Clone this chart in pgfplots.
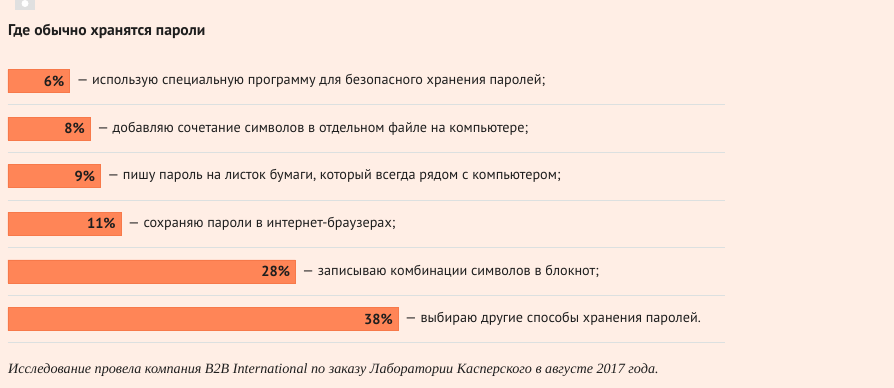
\documentclass[border=0pt]{standalone}
\usepackage{fontspec}
\setmainfont{PT Sans}
\newfontfamily\notefont{Liberation Serif}
\usepackage{pgfplots}
\pgfplotsset{compat=1.18}
\definecolor{bgc}{HTML}{FFEEE5}
\definecolor{barc}{HTML}{FF8557}
\definecolor{bardc}{HTML}{F7794A}
\definecolor{sepc}{HTML}{DCE0E0}
\definecolor{txtc}{HTML}{1E1E1E}
\tikzset{
  pct/.style={anchor=east, text=txtc, font=\bfseries\fontsize{14.5}{16}\selectfont, inner sep=0pt},
  dsc/.style={anchor=west, text=txtc, font=\fontsize{14.2}{16}\selectfont, inner sep=0pt},
}
\begin{document}
\begin{tikzpicture}
\fill[bgc] (0pt,0pt) rectangle (894pt,-388pt);
\fill[black!12] (15pt,0pt) rectangle (35pt,-10pt);
\fill[white] (25pt,-3.5pt) circle (3.5pt);
\node[anchor=base west, inner sep=0pt, text=txtc, font=\bfseries\fontsize{15.6}{18}\selectfont] at (8pt,-35pt) {Где обычно хранятся пароли};
\begin{axis}[
  at={(8pt,-57.2pt)}, anchor=north west,
  width=717pt, height=285.6pt, scale only axis,
  xmin=0, xmax=69.88, ymin=-5.5, ymax=0.5,
  axis line style={draw=none},
  xtick=\empty, ytick={-5.5,-4.5,-3.5,-2.5,-1.5,-0.5}, yticklabels={},
  major tick length=0pt,
  ymajorgrids, grid style={color=sepc, line width=1pt},
  clip=false,
]
\addplot[xbar, bar width=23pt, fill=barc, draw=bardc, line width=0.6pt]
  coordinates {(6,0) (8,-1) (9,-2) (11,-3) (28,-4) (38,-5)};
\node[pct] at ([xshift=-5pt]axis cs:6,0) {6\%};
\node[pct] at ([xshift=-5pt]axis cs:8,-1) {8\%};
\node[pct] at ([xshift=-5pt]axis cs:9,-2) {9\%};
\node[pct] at ([xshift=-5pt]axis cs:11,-3) {11\%};
\node[pct] at ([xshift=-5pt]axis cs:28,-4) {28\%};
\node[pct] at ([xshift=-5pt]axis cs:38,-5) {38\%};
\node[dsc] at ([xshift=7pt]axis cs:6,0) {— использую специальную программу для безопасного хранения паролей;};
\node[dsc] at ([xshift=7pt]axis cs:8,-1) {— добавляю сочетание символов в отдельном файле на компьютере;};
\node[dsc] at ([xshift=7pt]axis cs:9,-2) {— пишу пароль на листок бумаги, который всегда рядом с компьютером;};
\node[dsc] at ([xshift=7pt]axis cs:11,-3) {— сохраняю пароли в интернет-браузерах;};
\node[dsc] at ([xshift=7pt]axis cs:28,-4) {— записываю комбинации символов в блокнот;};
\node[dsc] at ([xshift=7pt]axis cs:38,-5) {— выбираю другие способы хранения паролей.};
\end{axis}
\node[anchor=base west, inner sep=0pt, text=txtc, font=\notefont\itshape\fontsize{14.15}{16}\selectfont] at (8pt,-373pt) {Исследование провела компания B2B International по заказу Лаборатории Касперского в августе 2017 года.};
\end{tikzpicture}
\end{document}
